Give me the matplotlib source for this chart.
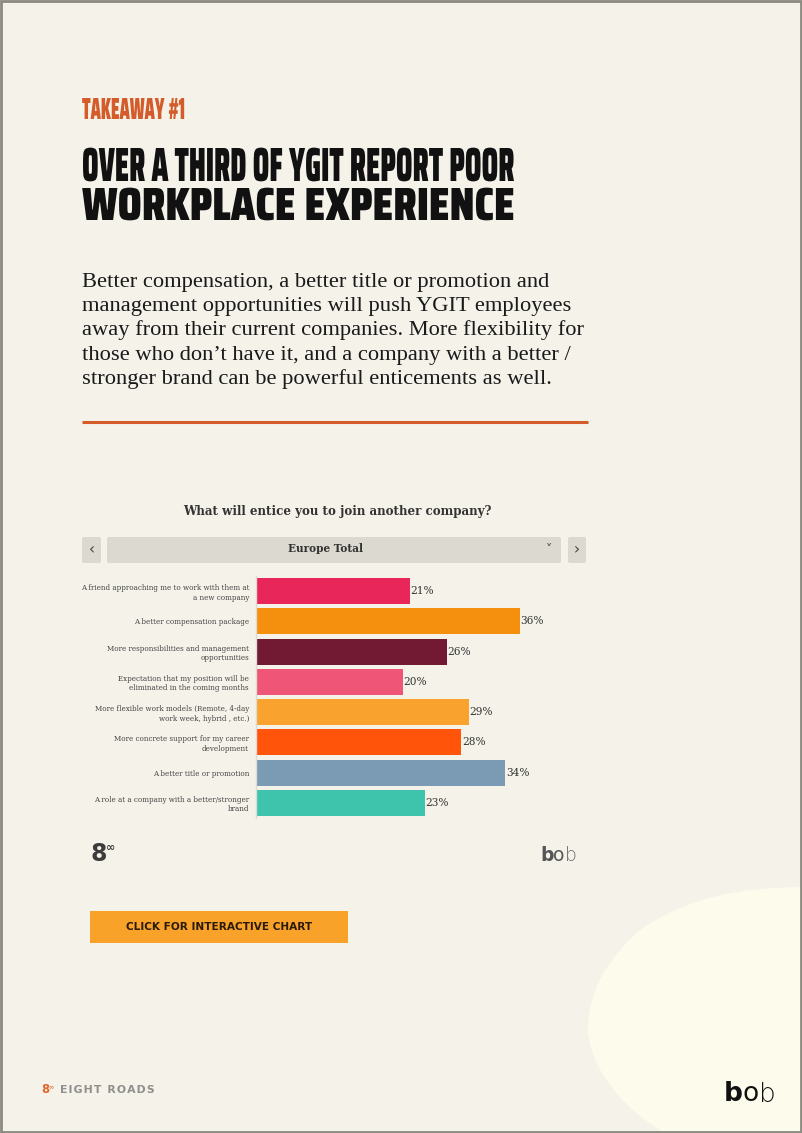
import os
import matplotlib
matplotlib.use("Agg")
import matplotlib.pyplot as plt
from matplotlib.patches import Rectangle, PathPatch, FancyBboxPatch
from matplotlib.path import Path
from matplotlib.textpath import TextPath
from matplotlib.transforms import Affine2D
from matplotlib import font_manager, patheffects
from matplotlib.font_manager import FontProperties

# --- data ---
categories = [
    "A friend approaching me to work with them at\na new company",
    "A better compensation package",
    "More responsibilities and management\nopportunities",
    "Expectation that my position will be\neliminated in the coming months",
    "More flexible work models (Remote, 4-day\nwork week, hybrid , etc.)",
    "More concrete support for my career\ndevelopment",
    "A better title or promotion",
    "A role at a company with a better/stronger\nbrand",
]
values = [21, 36, 26, 20, 29, 28, 34, 23]
bar_colors = ["#E8265A", "#F5900F", "#721A33", "#EE5577",
              "#F9A22E", "#FF540A", "#7B9AB3", "#3EC4AD"]

title_small = "TAKEAWAY #1"
title_line1 = "OVER A THIRD OF YGIT REPORT POOR"
title_line2 = "WORKPLACE EXPERIENCE"
body_lines = [
    "Better compensation, a better title or promotion and",
    "management opportunities will push YGIT employees",
    "away from their current companies. More flexibility for",
    "those who don\u2019t have it, and a company with a better /",
    "stronger brand can be powerful enticements as well.",
]
chart_title = "What will entice you to join another company?"
dropdown_label = "Europe Total"
button_label = "CLICK FOR INTERACTIVE CHART"

BG = "#F4F2E9"
ORANGE = "#D45B2A"
W, H = 802, 1133


# condensed faces for the headline, if any are installed
def _w(f):
    w = f.weight
    if isinstance(w, str):
        w = font_manager.weight_dict.get(w, 400)
    return w


narrow = []
for f in font_manager.fontManager.ttflist:
    base = os.path.basename(f.fname)
    if ("condensed" in str(f.stretch).lower() or "Condensed" in f.name or "Narrow" in f.name
            or "Condensed" in base or "Narrow" in base) and f.style == "normal":
        narrow.append(f)
narrow.sort(key=_w)
if narrow:
    FP_HEAVY = FontProperties(fname=narrow[-1].fname)
else:
    FP_HEAVY = FontProperties(family="DejaVu Sans", weight="bold")


class Stretch(patheffects.AbstractPathEffect):
    """draw text glyphs stretched upward from the baseline"""
    def __init__(self, sy):
        super().__init__()
        self.sy = sy

    def draw_path(self, renderer, gc, tpath, affine, rgbFace=None):
        renderer.draw_path(gc, tpath, Affine2D().scale(1, self.sy) + affine, rgbFace)


fig = plt.figure(figsize=(W / 100, H / 100), dpi=100)
fig.patch.set_facecolor(BG)
page = fig.add_axes([0, 0, 1, 1])
page.set_xlim(0, W)
page.set_ylim(H, 0)
page.axis("off")

# blob bottom right
verts = [(802, 887), (740, 888), (690, 896), (640, 930),
         (600, 965), (588, 1000), (588, 1030),
         (590, 1070), (625, 1110), (665, 1133),
         (802, 1133), (802, 887)]
codes = [Path.MOVETO, Path.CURVE4, Path.CURVE4, Path.CURVE4,
         Path.CURVE4, Path.CURVE4, Path.CURVE4,
         Path.CURVE4, Path.CURVE4, Path.CURVE4,
         Path.LINETO, Path.CLOSEPOLY]
page.add_patch(PathPatch(Path(verts, codes), facecolor="#FDFCEC", edgecolor="none"))

# page border
page.add_patch(Rectangle((1, 1), W - 2, H - 2, fill=False, edgecolor="#8A8A80", lw=2))


def headline(x, y, s, width, cap, fp, color):
    # font size from the wanted width, then stretch up to the cap height
    ink100 = TextPath((0, 0), s, size=100, prop=fp).get_extents().width * 100 / 72
    size = 100 * width / ink100
    capH = TextPath((0, 0), "H", size=size, prop=fp).get_extents().height * 100 / 72
    page.text(x, y, s, fontproperties=fp, fontsize=size, color=color, va="baseline",
              path_effects=[Stretch(cap / capH)])


headline(82, 119, title_small, 102, 21, FP_HEAVY, ORANGE)
headline(82, 181, title_line1, 431, 33, FP_HEAVY, "#111111")
headline(82, 220, title_line2, 431, 32, FP_HEAVY, "#111111")

for i, line in enumerate(body_lines):
    page.text(82, 287 + i * 24.2, line, family=["Liberation Serif", "DejaVu Serif"],
              fontsize=16.2, color="#1A1A1A", va="baseline")

page.plot([82, 588], [422, 422], color=ORANGE, lw=2.2, solid_capstyle="butt")

# chart header
page.text(337, 511, chart_title, family="DejaVu Serif", weight="bold", fontsize=8.6,
          color="#333333", ha="center", va="center")
for (x0, x1) in [(82, 101), (107, 561), (568, 586)]:
    page.add_patch(FancyBboxPatch((x0, 537), x1 - x0, 26,
                                  boxstyle="round,pad=0,rounding_size=2",
                                  facecolor="#DCD9D0", edgecolor="none"))
page.text(91.5, 550, "\u2039", fontsize=11, color="#444444", ha="center", va="center")
page.text(577, 550, "\u203a", fontsize=11, color="#444444", ha="center", va="center")
page.text(549, 550, "\u02c5", fontsize=9, color="#444444", ha="center", va="center")
page.text(325, 549, dropdown_label, family="DejaVu Serif", weight="bold", fontsize=7.6,
          color="#333333", ha="center", va="center")

# bar chart
ax = fig.add_axes([256 / W, 1 - 818 / H, (586 - 256) / W, (818 - 576) / H])
ax.set_facecolor("none")
ypos = list(range(len(values)))
ax.barh(ypos, values, height=0.86, color=bar_colors)
for y, v in zip(ypos, values):
    ax.text(v + 0.1, y, f"{v}%", family="DejaVu Serif", fontsize=7.6,
            color="#333333", ha="left", va="center")
ax.set_xlim(0, 45)
ax.set_ylim(len(values) - 0.5, -0.5)
ax.set_yticks(ypos)
ax.set_yticklabels(categories, family="DejaVu Serif", fontsize=5.1, color="#444444",
                   linespacing=1.25)
ax.tick_params(axis="y", length=0, pad=5)
ax.set_xticks([])
for s in ["top", "right", "bottom"]:
    ax.spines[s].set_visible(False)
ax.spines["left"].set_color("#DDDBD3")
ax.spines["left"].set_linewidth(1)

# chart footer logos
page.text(91, 861, "8", family="DejaVu Sans", weight="bold", fontsize=17,
          color="#3C3C3C", va="baseline")
page.text(106, 851, "\u221e", family="DejaVu Sans", weight="bold", fontsize=8,
          color="#3C3C3C", va="baseline")
b1 = page.text(540, 861, "b", family="DejaVu Sans", weight="bold", fontsize=13.5,
               color="#555555", va="baseline")
o1 = page.annotate("o", xy=(1, 0), xycoords=b1, family="DejaVu Sans", fontsize=13.5,
                   color="#555555", va="bottom")
page.annotate("b", xy=(1, 0), xycoords=o1, family="DejaVu Sans", weight="light",
              fontsize=13.5, color="#666666", va="bottom")

# button
page.add_patch(Rectangle((90, 911), 258, 32, facecolor="#F9A22A", edgecolor="none"))
page.text(219, 927, button_label, family="DejaVu Sans", weight="bold", fontsize=7.6,
          color="#2A1A0A", ha="center", va="center")

# page footer
page.text(41, 1093, "8", family="DejaVu Sans", weight="bold", fontsize=8.4,
          color="#E0672E", va="baseline")
page.text(48, 1088, "\u221e", family="DejaVu Sans", fontsize=4.5,
          color="#E0672E", va="baseline")
page.text(60, 1093, "\u200a".join("EIGHT ROADS"), family="DejaVu Sans",
          weight="bold", fontsize=7.8, color="#8F8F8C", va="baseline")
b2 = page.text(724, 1101, "b", family="DejaVu Sans", weight="bold", fontsize=19,
               color="#111111", va="baseline")
o2 = page.annotate("o", xy=(1, 0), xycoords=b2, family="DejaVu Sans", fontsize=19,
                   color="#111111", va="bottom")
page.annotate("b", xy=(1, 0), xycoords=o2, family="DejaVu Sans", weight="light",
              fontsize=19, color="#111111", va="bottom")

fig.savefig("out.png", dpi=100, facecolor=BG)
